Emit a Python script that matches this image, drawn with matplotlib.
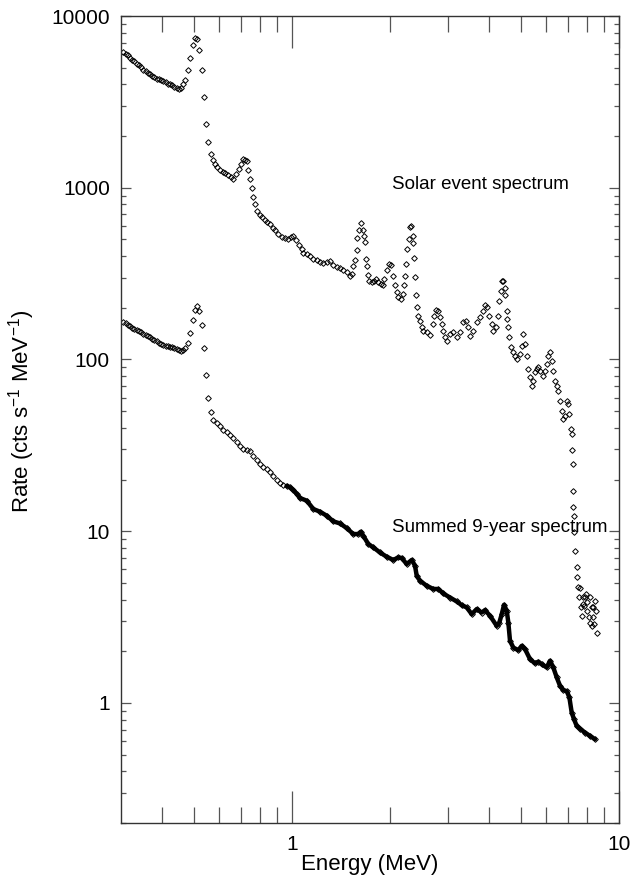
import numpy as np
import matplotlib
matplotlib.use('Agg')
from matplotlib import pyplot as plt
from matplotlib.ticker import FixedLocator, NullFormatter

plt.rcParams['font.family'] = ['Liberation Sans', 'DejaVu Sans']
plt.rcParams['mathtext.fontset'] = 'custom'
plt.rcParams['mathtext.rm'] = 'Liberation Sans'
plt.rcParams['mathtext.it'] = 'Liberation Sans:italic'

# Solar event spectrum (MeV, cts/s/MeV)
energy_solar = [
    0.3049, 0.3101, 0.3145, 0.3196, 0.3248, 0.3294, 0.3350, 0.3405, 0.3454, 0.3510,
    0.3570, 0.3621, 0.3679, 0.3740, 0.3793, 0.3858, 0.3920, 0.3976, 0.4041, 0.4110,
    0.4168, 0.4235, 0.4306, 0.4367, 0.4441, 0.4514, 0.4577, 0.4652, 0.4718, 0.4795,
    0.4886, 0.4970, 0.5051, 0.5122, 0.5206, 0.5308, 0.5382, 0.5459, 0.5548, 0.5642,
    0.5734, 0.5799, 0.5893, 0.6012, 0.6140, 0.6254, 0.6384, 0.6496, 0.6617, 0.674,
    0.687, 0.700, 0.707, 0.719, 0.727, 0.735, 0.743, 0.754, 0.762, 0.771,
    0.782, 0.796, 0.810, 0.827, 0.836, 0.855, 0.873, 0.886, 0.907, 0.930,
    0.952, 0.974, 0.991, 1.009, 1.029, 1.053, 1.071, 1.083, 1.109, 1.135,
    1.162, 1.190, 1.218, 1.247, 1.277, 1.307, 1.338, 1.370, 1.402, 1.435,
    1.470, 1.504, 1.522, 1.540, 1.558, 1.577, 1.584, 1.607, 1.626, 1.645,
    1.661, 1.672, 1.684, 1.692, 1.712, 1.724, 1.753, 1.782, 1.807, 1.837,
    1.867, 1.894, 1.916, 1.948, 1.985, 2.013, 2.041, 2.065, 2.089, 2.114,
    2.149, 2.180, 2.200, 2.216, 2.232, 2.253, 2.275, 2.296, 2.317, 2.339,
    2.350, 2.361, 2.378, 2.394, 2.406, 2.434, 2.463, 2.492, 2.521, 2.581,
    2.642, 2.692, 2.718, 2.750, 2.802, 2.836, 2.870, 2.904, 2.938, 2.972,
    3.042, 3.114, 3.187, 3.265, 3.342, 3.405, 3.461, 3.502, 3.585, 3.670,
    3.758, 3.847, 3.893, 3.939, 4.014, 4.080, 4.128, 4.206, 4.256, 4.306,
    4.346, 4.387, 4.428, 4.470, 4.491, 4.533, 4.554, 4.586, 4.618, 4.662,
    4.728, 4.808, 4.864, 4.980, 5.039, 5.099, 5.159, 5.220, 5.282, 5.345,
    5.408, 5.472, 5.536, 5.602, 5.668, 5.734, 5.871, 5.940, 6.010, 6.081,
    6.152, 6.225, 6.298, 6.373, 6.448, 6.524, 6.601, 6.679, 6.726, 6.837,
    6.918, 6.999, 7.048, 7.115, 7.165, 7.170, 7.215, 7.225, 7.250, 7.260,
    7.285, 7.336, 7.421, 7.456, 7.509, 7.562, 7.580, 7.633, 7.687, 7.743,
    7.780, 7.820, 7.871, 7.927, 7.960, 8.002, 8.077, 8.154, 8.160, 8.250,
    8.260, 8.309, 8.348, 8.360, 8.447, 8.507, 8.546,
]
rate_solar = [
    6168, 6038, 5902, 5723, 5571, 5445, 5280, 5160, 5044, 4872,
    4762, 4680, 4574, 4471, 4411, 4318, 4277, 4220, 4180, 4125,
    4037, 4037, 3947, 3856, 3804, 3775, 3826, 4037, 4220, 4827,
    5691, 6811, 7443, 7345, 6372, 4872, 3373, 2361, 1844, 1578,
    1443, 1368, 1318, 1273, 1233, 1217, 1180, 1153, 1128, 1208,
    1279, 1380, 1476, 1455, 1429, 1273, 1128, 1000, 881, 807,
    731, 698, 674, 653, 630, 611, 585, 564, 539, 520,
    511, 504, 520, 527, 497, 461, 441, 416, 409, 398,
    386, 377, 369, 364, 369, 372, 353, 345, 342, 333,
    322, 308, 315, 348, 380, 435, 511, 564, 622, 569,
    527, 482, 386, 348, 312, 286, 282, 288, 295, 282,
    276, 270, 295, 333, 361, 353, 308, 270, 247, 231,
    225, 241, 270, 308, 361, 441, 504, 590, 595, 527,
    476, 391, 304, 236, 202, 178, 167, 155.5, 147.4, 144.1,
    139.7, 161.2, 180.3, 194.5, 191.0, 176.3, 161.2, 147.4, 134.8, 128.9,
    141.0, 144.1, 135.9, 144.1, 164.8, 168.5, 154.1, 137.8, 147.4, 164.8,
    176.3, 192.7, 208.9, 203.4, 180.3, 161.2, 147.4, 154.1, 180.3, 220.4,
    252.0, 288, 286, 261.3, 238.9, 192.7, 172.3, 154.1, 134.8, 117.8,
    110.2, 105.4, 100.8, 107.8, 120.5, 141.0, 123.2, 105.4, 88.1, 78.8,
    70.4, 75.4, 84.3, 88.1, 90.9, 86.1, 80.6, 86.1, 94.2, 105.4,
    110.2, 98.5, 86.1, 75.4, 70.4, 65.9, 57.6, 50.4, 45.1, 47.1,
    57.6, 55.1, 48.2, 39.4, 36.8, 29.7, 24.6, 17.2, 13.8, 12.3,
    9.84, 7.70, 6.16, 5.38, 4.71, 4.12, 4.67, 3.60, 3.22, 4.12,
    3.76, 3.68, 4.12, 4.30, 3.85, 3.44, 3.15, 2.94, 4.12, 2.81,
    3.60, 3.15, 3.60, 2.88, 3.94, 3.44, 2.57,
]

# Summed 9-year spectrum
energy_summed = [
    0.3049, 0.3101, 0.3145, 0.3196, 0.3248, 0.3294, 0.3350, 0.3405, 0.3454, 0.3510,
    0.3570, 0.3621, 0.3679, 0.3740, 0.3793, 0.3858, 0.3920, 0.3976, 0.4041, 0.4110,
    0.4168, 0.4235, 0.4306, 0.4367, 0.4441, 0.4514, 0.4577, 0.4652, 0.4718, 0.4795,
    0.4886, 0.4970, 0.5051, 0.5122, 0.5206, 0.5308, 0.5382, 0.5459, 0.5548, 0.5642,
    0.5734, 0.5886, 0.6024, 0.6167, 0.6316, 0.6464, 0.6616, 0.6776, 0.6935, 0.7098,
    0.7270, 0.7441, 0.7616, 0.7800, 0.7984, 0.8171, 0.8374, 0.8564, 0.8768, 0.8981,
    0.9190, 0.9407, 0.9635, 0.986, 1.0094, 1.0339, 1.058, 1.1096, 1.1620, 1.218,
    1.2771, 1.3379, 1.402, 1.4699, 1.5397, 1.5948, 1.6220, 1.6520, 1.7116, 1.7729,
    1.858, 1.9484, 2.0411, 2.1142, 2.1654, 2.2430, 2.3234, 2.3780, 2.4066, 2.463,
    2.5823, 2.7050, 2.8020, 2.9024, 3.042, 3.1897, 3.3039, 3.4221, 3.5448, 3.6717,
    3.8029, 3.8931, 4.032, 4.2280, 4.3062, 4.3794, 4.4514, 4.5363, 4.5876, 4.642,
    4.7514, 4.9218, 5.0409, 5.1594, 5.343, 5.5356, 5.6652, 5.8023, 6.0105, 6.152,
    6.2967, 6.4491, 6.600, 6.756, 6.921, 7.050, 7.167, 7.283, 7.425, 7.598,
    7.872, 8.153, 8.445,
]
rate_summed = [
    166.3, 162.6, 159.7, 156.1, 152.8, 150.8, 148.8, 147.4, 144.1, 141.0,
    139.1, 137.8, 134.7, 131.9, 130.1, 127.7, 125.5, 123.3, 121.7, 120.5,
    119.4, 118.9, 117.8, 116.2, 114.7, 113.7, 112.7, 114, 116, 125,
    143, 170, 195, 206, 191, 158, 116, 81, 60, 49.5,
    44.5, 42.5, 40.8, 39.0, 37.6, 36.5, 34.9, 32.9, 31.5, 30.1,
    29.7, 29.2, 27.5, 26.0, 24.6, 23.8, 23.0, 22.0, 21.1, 19.9,
    19.2, 18.7, 18.4, 18.0, 17.4, 16.5, 15.6, 15.06, 13.47, 12.99,
    12.31, 11.41, 11.10, 10.43, 9.63, 9.63, 9.93, 9.41, 8.42, 8.05,
    7.52, 7.10, 6.80, 7.04, 6.98, 6.44, 6.80, 6.30, 5.50, 5.15,
    4.81, 4.61, 4.61, 4.34, 4.11, 3.90, 3.71, 3.60, 3.29, 3.52,
    3.36, 3.47, 3.22, 2.81, 2.94, 3.29, 3.73, 3.44, 2.94, 2.30,
    2.10, 2.03, 2.15, 2.06, 1.80, 1.70, 1.74, 1.68, 1.61, 1.76,
    1.61, 1.41, 1.26, 1.19, 1.17, 1.08, 0.879, 0.805, 0.735, 0.709,
    0.672, 0.643, 0.615,
]

y_ticks = [1, 10, 100, 1000, 10000]
y_tick_labels = ['1', '10', '100', '1000', '10000']
x_ticks = [1, 10]
x_tick_labels = ['1', '10']

fig = plt.figure(figsize=(6.36, 8.82), dpi=100)
ax = fig.add_axes([121 / 636, 1 - 823 / 882, 498 / 636, 807 / 882])
ax.set_xscale('log')
ax.set_yscale('log')
ax.set_xlim(0.3, 10)
ax.set_ylim(0.2, 10000)

mstyle = dict(linestyle='none', marker='D', ms=2.9, mfc='none', mec='k', mew=0.7)
ax.plot(energy_solar, rate_solar, **mstyle)
ax.plot(energy_summed, rate_summed, **mstyle)
# the summed spectrum is so densely sampled above ~1 MeV that it reads as a thick band
es = np.array(energy_summed)
rs = np.array(rate_summed)
sel = es >= 0.95
ax.plot(es[sel], rs[sel], color='k', lw=3.2, solid_capstyle='round')

ax.xaxis.set_major_locator(FixedLocator(x_ticks))
ax.set_xticklabels(x_tick_labels)
ax.xaxis.set_minor_locator(FixedLocator([0.4, 0.5, 0.6, 0.7, 0.8, 0.9, 2, 3, 4, 5, 6, 7, 8, 9]))
ax.xaxis.set_minor_formatter(NullFormatter())
ax.yaxis.set_major_locator(FixedLocator(y_ticks))
ax.set_yticklabels(y_tick_labels)
ax.yaxis.set_minor_locator(FixedLocator([0.2, 0.3, 0.4, 0.5, 0.6, 0.7, 0.8, 0.9]
                                        + [m * 10 ** k for k in range(0, 4) for m in range(2, 10)]))
ax.yaxis.set_minor_formatter(NullFormatter())

tick_col = '#555555'
ax.tick_params(which='both', direction='in', top=True, right=True, color=tick_col,
               labelsize=15, width=0.9)
ax.tick_params(axis='x', which='major', length=23, pad=9)
ax.tick_params(axis='x', which='minor', length=11.5)
ax.tick_params(axis='y', which='major', length=7, pad=8)
ax.tick_params(axis='y', which='minor', length=3.5)
for sp in ax.spines.values():
    sp.set_linewidth(1.0)
    sp.set_color('#333333')

ax.set_xlabel('Energy (MeV)', fontsize=16)
ax.xaxis.set_label_coords(0.5, -0.038)
ax.set_ylabel('Rate (cts s$^{\\mathregular{-1}}$ MeV$^{\\mathregular{-1}}$)', fontsize=16)
ax.yaxis.set_label_coords(-0.168, 0.51)

ax.text(2.02, 986, 'Solar event spectrum', fontsize=13.5, va='baseline', ha='left')
ax.text(2.02, 9.84, 'Summed 9-year spectrum', fontsize=13.5, va='baseline', ha='left')

fig.savefig('out.png', dpi=100)
